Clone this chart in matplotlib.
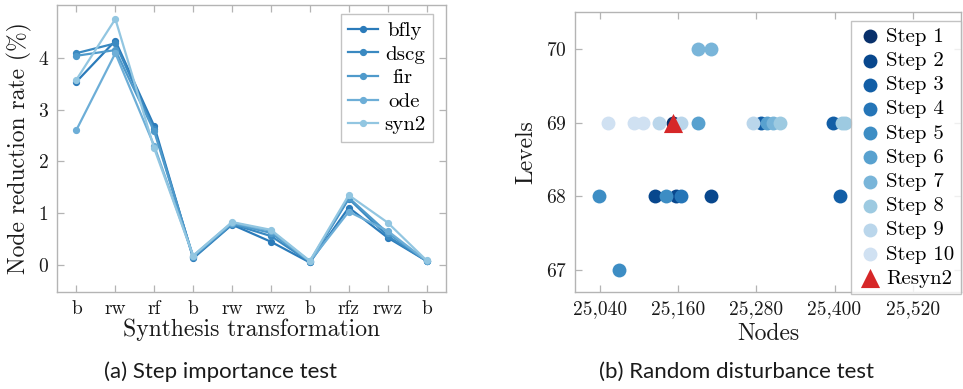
import numpy as np
import matplotlib
matplotlib.use("Agg")
import matplotlib.pyplot as plt
from matplotlib.ticker import FuncFormatter

# ---------------- data ----------------
transforms = ["b", "rw", "rf", "b", "rw", "rwz", "b", "rfz", "rwz", "b"]
designs = ["bfly", "dscg", "fir", "ode", "syn2"]
bfly = [3.54, 4.33, 2.68, 0.13, 0.78, 0.45, 0.05, 1.11, 0.53, 0.08]
dscg = [4.09, 4.28, 2.62, 0.15, 0.79, 0.56, 0.06, 1.28, 0.56, 0.08]
fir = [4.04, 4.15, 2.58, 0.16, 0.80, 0.62, 0.07, 1.30, 0.62, 0.08]
ode = [2.61, 4.09, 2.30, 0.18, 0.82, 0.66, 0.07, 1.03, 0.66, 0.08]
syn2 = [3.58, 4.75, 2.25, 0.18, 0.83, 0.68, 0.08, 1.35, 0.82, 0.09]
series = [bfly, dscg, fir, ode, syn2]

step_labels = ["Step 1", "Step 2", "Step 3", "Step 4", "Step 5",
               "Step 6", "Step 7", "Step 8", "Step 9", "Step 10"]
step_nodes = [
    [25152],
    [25125, 25157, 25210],
    [25288, 25397, 25409],
    [25165],
    [25039, 25141, 25070],
    [25191, 25297],
    [25190, 25211, 25306],
    [25317, 25411, 25416],
    [25131, 25165, 25275],
    [25052, 25093, 25106],
]
step_levels = [
    [69],
    [68, 68, 68],
    [69, 69, 68],
    [68],
    [68, 68, 67],
    [69, 69],
    [70, 70, 69],
    [69, 69, 69],
    [69, 69, 69],
    [69, 69, 69],
]
resyn2_nodes = [25152]
resyn2_levels = [69]
node_ticks = [25040, 25160, 25280, 25400, 25520]

# ---------------- style ----------------
serif = ["cmr10", "DejaVu Serif"]
plt.rcParams["font.family"] = serif
plt.rcParams["axes.unicode_minus"] = False
plt.rcParams["axes.formatter.use_mathtext"] = True
grey = "#b4b4b4"
txt = "#1a1a1a"

fig = plt.figure(figsize=(9.63, 3.89), dpi=100)
W, H = 963, 389

def ax_rect(l, t, r, b):
    return [l / W, 1 - b / H, (r - l) / W, (b - t) / H]

def style_axes(ax):
    for s in ax.spines.values():
        s.set_color(grey)
        s.set_linewidth(1.0)
    ax.tick_params(direction="in", length=5, width=0.9, color=grey,
                   top=True, right=True, labelsize=14, labelcolor=txt, pad=6)

# ---------------- left ----------------
ax1 = fig.add_axes(ax_rect(57, 5, 446, 292))
line_colors = ["#2b7bba", "#3a89c1", "#4f9acb", "#6daed7", "#92c6e1"]
x = np.arange(len(transforms))
for name, vals, c in zip(designs, series, line_colors):
    ax1.plot(x, vals, color=c, lw=1.6, marker="o", ms=4.2, label=name)
ax1.set_xlim(-0.5, 9.5)
ax1.set_ylim(-0.52, 5.02)
ax1.set_xticks(x)
ax1.set_xticklabels(transforms)
ax1.set_yticks([0, 1, 2, 3, 4])
style_axes(ax1)
ax1.set_xlabel("Synthesis transformation", fontsize=17, color=txt, labelpad=0)
ax1.set_ylabel("Node reduction rate (%)", fontsize=17, color=txt, labelpad=4)
leg1 = ax1.legend(loc="upper right", bbox_to_anchor=(0.967, 0.968), fontsize=15,
                  frameon=True, fancybox=False, edgecolor=grey, handlelength=1.45,
                  labelspacing=0.24, borderpad=0.35, handletextpad=0.3,
                  borderaxespad=0)
leg1.get_frame().set_linewidth(1.0)
# centre the legend labels like the reference
texts = leg1.get_texts()
fig.canvas.draw()
r = fig.canvas.get_renderer()
widths = [t.get_window_extent(r).width for t in texts]
wmax = max(widths)
for t, w in zip(texts, widths):
    t.set_position(((wmax - w) / 2 * 72 / fig.dpi, 0))

# ---------------- right ----------------
ax2 = fig.add_axes(ax_rect(575, 12, 961, 292))
cmap = plt.get_cmap("Blues")
step_colors = [cmap(v) for v in np.linspace(1.0, 0.2, len(step_labels))]
for lab, xs, ys, c in zip(step_labels, step_nodes, step_levels, step_colors):
    ax2.scatter(xs, ys, s=100, color=c, label=lab, zorder=3, linewidths=0)
ax2.scatter(resyn2_nodes, resyn2_levels, s=190, marker="^", color="#d62728",
            label="Resyn2", zorder=4, linewidths=0)
ax2.set_xlim(25002, 25594)
ax2.set_ylim(66.7, 70.5)
ax2.set_xticks(node_ticks)
ax2.xaxis.set_major_formatter(FuncFormatter(lambda v, p: f"{v:,.0f}"))
ax2.set_yticks([67, 68, 69, 70])
style_axes(ax2)
ax2.set_xlabel("Nodes", fontsize=17, color=txt, labelpad=3)
ax2.set_ylabel("Levels", fontsize=17, color=txt, labelpad=6)
leg2 = ax2.legend(loc="upper left", bbox_to_anchor=(0.715, 0.968), fontsize=15,
                  frameon=True, fancybox=False, edgecolor=grey,
                  labelspacing=0.27, borderpad=0.3, handletextpad=0.2,
                  handlelength=1.2, borderaxespad=0, markerscale=1.0)
leg2.get_frame().set_linewidth(1.0)

# ---------------- captions ----------------
cap_font = ["Lato", "DejaVu Sans"]
fig.text(220 / W, 1 - 372 / H, "(a) Step importance test", ha="center", va="center",
         fontsize=16, family=cap_font, color=txt)
fig.text(736 / W, 1 - 372 / H, "(b) Random disturbance test", ha="center", va="center",
         fontsize=16, family=cap_font, color=txt)

fig.savefig("out.png", dpi=100)
